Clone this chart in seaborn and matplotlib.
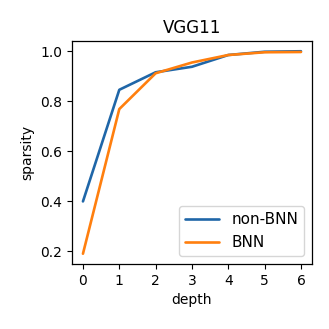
import numpy as np
import pandas as pd
import matplotlib
matplotlib.use("Agg")
import matplotlib.pyplot as plt
import seaborn as sns

depth = [0, 1, 2, 3, 4, 5, 6]
non_bnn = [0.40, 0.846, 0.916, 0.938, 0.985, 0.998, 1.0]
bnn = [0.191, 0.769, 0.912, 0.955, 0.985, 0.996, 0.997]

sns.set_style("ticks")
plt.rcParams['font.family'] = ['DejaVu Sans']
plt.rcParams['text.color'] = 'black'
plt.rcParams['axes.labelcolor'] = 'black'
plt.rcParams['xtick.color'] = 'black'
plt.rcParams['ytick.color'] = 'black'

df = pd.DataFrame({
    'depth': depth * 2,
    'sparsity': non_bnn + bnn,
    'model': ['non-BNN'] * len(depth) + ['BNN'] * len(depth),
})

fig = plt.figure(figsize=(3.29, 3.29), dpi=100)
ax = fig.add_axes([0.219, 0.198, 0.729, 0.677])
sns.lineplot(data=df, x='depth', y='sparsity', hue='model',
             palette=['#1f66a8', '#ff7f0e'], linewidth=1.9, ax=ax)
ax.set_title('VGG11', fontsize=12, color='black')
ax.set_xlabel('depth', fontsize=10)
ax.set_ylabel('sparsity', fontsize=10)
ax.set_xticks(depth)
ax.set_yticks([0.2, 0.4, 0.6, 0.8, 1.0])
ax.tick_params(labelsize=10, direction='out', length=3.5, width=0.8, colors='black')
for s in ax.spines.values():
    s.set_visible(True)
    s.set_color('black')
    s.set_linewidth(0.9)
leg = ax.legend(title=None, loc='lower right', fontsize=11, handlelength=2.2)
for t in leg.get_texts():
    t.set_color('black')
fig.savefig('out.png', dpi=100)
